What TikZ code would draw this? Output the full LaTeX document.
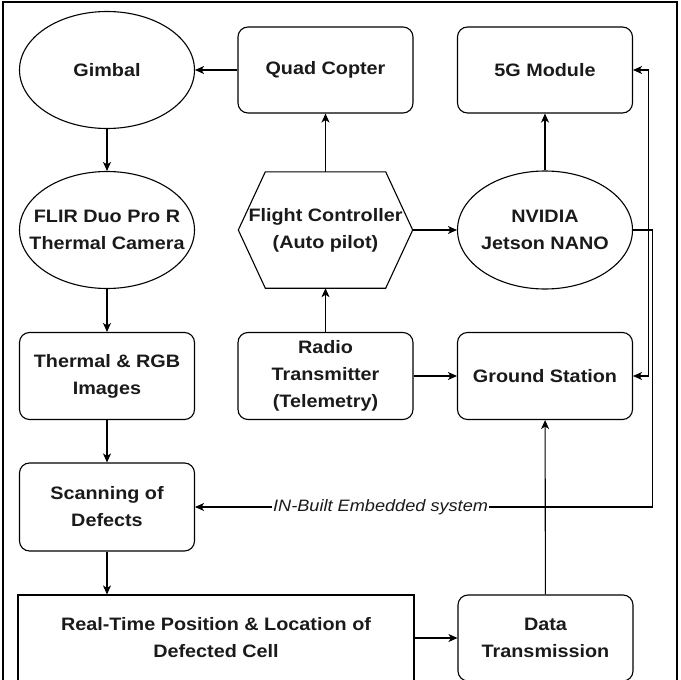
\documentclass[tikz,border=0pt]{standalone}
\usepackage{fontspec}
\setmainfont{Liberation Sans}[FakeStretch=1.1]
\usetikzlibrary{arrows.meta,shapes.geometric}
\definecolor{txt}{HTML}{1A1A1A}
\begin{document}
\begin{tikzpicture}[x=1pt,y=-1pt,
  every node/.style={font=\fontsize{18}{27}\selectfont\bfseries, text=txt, align=center, inner sep=0pt},
  box/.style={draw, line width=1.1pt, rounded corners=10pt, minimum width=175pt, minimum height=86pt},
  oval/.style={draw, line width=1.1pt, ellipse, minimum width=175pt, minimum height=117pt},
  conn/.style={line width=1.1pt, -{Stealth[length=9pt,width=8pt,inset=2.5pt]}},
  lbl/.style={font=\fontsize{16.5}{20}\selectfont\itshape, fill=white, inner sep=1pt}
]
\useasboundingbox (0,0) rectangle (681,680);
\clip (0,0) rectangle (681,680);
\draw[line width=1.6pt] (3,690) -- (3,2) -- (677,2) -- (677,690);

\node[oval] (gimbal) at (107,70) {};
\node at (gimbal) {Gimbal};
\node[box] (quad) at (325.5,70) {Quad Copter};
\node[box] (g5) at (545,70) {5G Module};
\node[oval] (flir) at (107,230) {};
\node at (flir) {FLIR Duo Pro R\\Thermal Camera};
\node[minimum width=174pt, minimum height=116pt] (fc) at (325.5,230) {Flight Controller\\(Auto pilot)};
\draw[line width=1.1pt] (fc.west) -- ([xshift=27pt]fc.north west) -- ([xshift=-27pt]fc.north east) -- (fc.east) -- ([xshift=-27pt]fc.south east) -- ([xshift=27pt]fc.south west) -- cycle;
\node[oval, minimum height=118pt] (nvidia) at (545,230) {};
\node at (nvidia) {NVIDIA\\Jetson NANO};
\node[box, minimum height=87pt] (thermal) at (107,376) {Thermal \& RGB\\Images};
\node[box, minimum height=87pt] (radio) at (325.5,376) {Radio\\Transmitter\\(Telemetry)};
\node[box, minimum height=87pt] (ground) at (545,376) {Ground Station};
\node[box, minimum height=88pt] (scan) at (107,507) {Scanning of\\Defects};
\node[box, rounded corners=0pt, minimum width=396pt] (rt) at (216,638) {Real-Time Position \& Location of\\Defected Cell};
\node[box] (dt) at (545.5,638) {Data\\Transmission};

\draw[conn] (quad.west) -- (gimbal.east);
\draw[conn] (gimbal) -- (flir);
\draw[conn] (fc.north) -- (quad.south);
\draw[conn] (nvidia) -- (g5);
\draw[conn] (fc.east) -- (nvidia.west);
\draw[conn] (radio.north) -- (fc.south);
\draw[conn] (radio) -- (ground);
\draw[conn] (flir) -- (thermal);
\draw[conn] (thermal) -- (scan);
\draw[conn] (scan.south) -- (scan.south |- rt.north);
\draw[conn] (rt.east) -- (rt.east -| dt.west);
\draw[conn] (dt) -- (ground);
\draw[conn] (nvidia.east) -- ++(19pt,0) |- (scan.east) node[lbl, pos=0.797] {IN-Built Embedded system};
\draw[line width=1.1pt, {Stealth[length=9pt,width=8pt,inset=2.5pt]}-{Stealth[length=9pt,width=8pt,inset=2.5pt]}] (g5.east) -- ++(15pt,0) |- (ground.east);
\end{tikzpicture}
\end{document}
